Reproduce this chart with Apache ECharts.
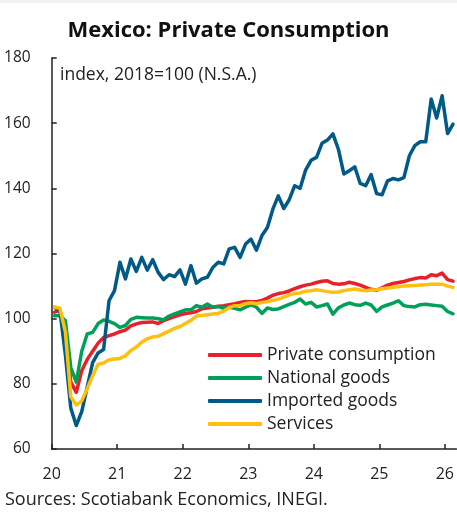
<!DOCTYPE html>
<html>
<head>
<meta charset="utf-8">
<script src="https://cdn.jsdelivr.net/npm/echarts@6/dist/echarts.min.js"></script>
<style>
html,body{margin:0;padding:0;background:#fff;}
#c{width:457px;height:514px;}
</style>
</head>
<body>
<div id="c"></div>
<script>
// Monthly data, Jan 2020 onward (index, 2018=100)
var privateConsumption = [102,102.5,97,80.5,77.4,84,87.5,90,92.5,94.2,94.8,95.3,96,96.5,97.8,98.4,98.8,98.9,99,98.5,99.4,100,100.6,101.2,101.6,101.8,102.2,103,103.3,103.5,103.8,104,104.3,104.6,105,105.3,105.2,105.2,105.6,106.3,107.2,107.7,108,108.5,109.2,109.8,110.3,110.6,111.1,111.5,111.6,110.8,110.6,110.7,111.2,110.8,110.3,109.6,109,108.7,109.5,110.3,110.8,111.1,111.4,111.9,112.3,112.6,112.5,113.5,113.2,114,112,111.5];
var nationalGoods = [100.9,100.9,99.4,85,80.5,90,95.3,95.8,98.5,99.6,99.2,98.5,97.3,97.9,99.8,100.4,100.3,100.2,100.2,100,99.7,100.8,101.5,102.1,102.7,102.7,104,103.5,104.5,103.5,103.7,103.2,103.5,103.2,102.7,103.5,104.3,103.5,101.6,103.3,102.8,103,103.7,104.4,105,106,104.5,105,103.6,104,104.5,101.4,103.3,104.2,104.8,104.3,104.1,104.8,104.2,102.2,103.6,104.2,104.8,105.5,104,103.7,103.6,104.3,104.4,104.2,104,103.8,102.2,101.5];
var importedGoods = [103.5,102.5,89,72.5,67.2,71.5,79,86.5,89.5,90.5,105.5,108.6,117.3,112.2,118.3,114.5,118.8,114.9,118.1,114.2,112,113.5,112.9,115,110.6,116.3,110.9,112.2,112.7,115.7,117.3,116.8,121.4,121.9,118.8,122.9,124.4,121,125.5,128,133.6,137.7,133.8,136.5,140.8,140,145.6,148.6,149.5,153.8,154.8,156.7,152,144.4,145.4,146.6,141.5,140.8,144.2,138.4,138,142.3,143,142.6,143.3,150,153.1,154.3,154.3,167.4,161.6,168.4,156.8,159.7];
var services = [103.6,103.2,96,76,73.5,74.8,78.5,82.5,86,86.4,87.4,87.6,87.8,88.6,90.2,91.3,92.8,93.8,94.4,94.6,95.4,96.2,97,97.6,98.5,99.5,100.8,101,101.2,101.4,101.6,102.3,103.4,104,104,104.6,104.9,104.6,105,105.2,105.6,106,106.6,107.3,107.7,107.9,108.4,108.6,108.9,108.6,108.3,108.1,108.2,108.6,108.9,109.1,108.8,108.6,108.8,108.9,109.2,109.4,109.6,109.9,110,110.1,110.2,110.3,110.4,110.6,110.6,110.6,110,109.6];
var seriesNames = ['Private consumption','National goods','Imported goods','Services'];
var seriesColors = ['#e8202a','#00a05a','#005a87','#fdc010'];
var yearLabels = ['20','21','22','23','24','25','26'];

function toPairs(arr){ return arr.map(function(v,i){ return [i+0.5, v]; }); }
var allData = [privateConsumption, nationalGoods, importedGoods, services];

var FONT = "'Open Sans', sans-serif";
var chart = echarts.init(document.getElementById('c'), null, {renderer:'canvas'});
chart.setOption({
  animation:false,
  backgroundColor:'#fff',
  textStyle:{fontFamily:FONT},
  title:{
    text:'Mexico: Private Consumption',
    left:'center', top:15,
    textStyle:{fontFamily:FONT, fontSize:22, fontWeight:'bold', color:'#111'}
  },
  graphic:[
    {type:'rect', left:0, top:0, shape:{width:457, height:3}, style:{fill:'#f1f2f2'}},
    {type:'text', left:60, top:66, style:{text:'index, 2018=100 (N.S.A.)', font:"17.5px 'Open Sans', sans-serif", fill:'#222'}},
    {type:'text', left:5, top:491, style:{text:'Sources: Scotiabank Economics, INEGI.', font:"18px 'Open Sans', sans-serif", fill:'#222'}}
  ],
  legend:{
    orient:'vertical', left:208, top:345, padding:0,
    itemWidth:54, itemHeight:4, itemGap:3, icon:'roundRect',
    textStyle:{fontFamily:FONT, fontSize:17.5, color:'#222', lineHeight:20, padding:[0,0,0,0]},
    data:seriesNames
  },
  grid:{left:51.7, right:0, top:58, bottom:65, containLabel:false},
  xAxis:{
    type:'value', min:0, max:74.1, interval:12,
    axisLine:{show:true, lineStyle:{color:'#222', width:1.5}},
    axisTick:{show:true, inside:true, length:5, lineStyle:{color:'#222', width:1.5}},
    splitLine:{show:false},
    axisLabel:{
      margin:17, fontSize:16, color:'#222', fontFamily:FONT, showMaxLabel:false,
      formatter:function(v){ var k=Math.round(v/12); return (Math.abs(v-k*12)<0.01 && yearLabels[k]) ? yearLabels[k] : ''; }
    }
  },
  yAxis:{
    type:'value', min:60, max:180, interval:20,
    axisLine:{show:true, lineStyle:{color:'#222', width:1.5}},
    axisTick:{show:true, inside:true, length:5, lineStyle:{color:'#222', width:1.5}},
    splitLine:{show:false},
    axisLabel:{margin:21, fontSize:15.5, color:'#222', fontFamily:FONT}
  },
  series: allData.map(function(d,k){
    return {
      name:seriesNames[k], type:'line', data:toPairs(d),
      showSymbol:false, symbol:'none', smooth:false,
      lineStyle:{color:seriesColors[k], width:3.5, join:'round', cap:'round'},
      itemStyle:{color:seriesColors[k]},
      z:2+k
    };
  })
});
</script>
</body>
</html>
